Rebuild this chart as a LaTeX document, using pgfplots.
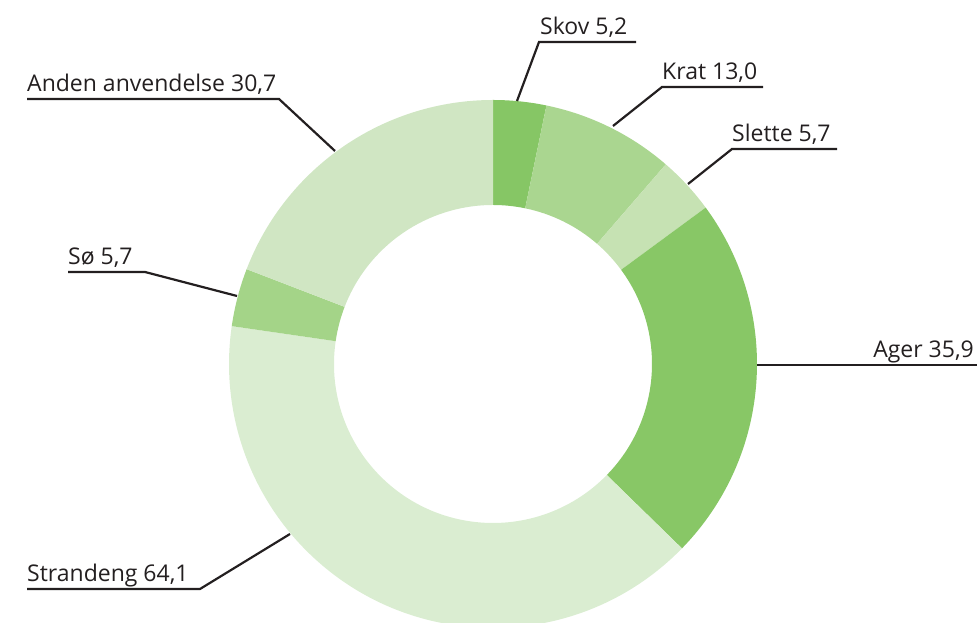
\documentclass[border=0pt]{standalone}
\usepackage{pgfplots}
\pgfplotsset{compat=1.18}
\usepackage{fontspec}
\setmainfont{Open Sans}
\definecolor{cSkov}{HTML}{86C665}
\definecolor{cKrat}{HTML}{AAD690}
\definecolor{cSlette}{HTML}{C6E2B3}
\definecolor{cAger}{HTML}{88C766}
\definecolor{cStrand}{HTML}{DAEDD1}
\definecolor{cSo}{HTML}{A4D488}
\definecolor{cAnden}{HTML}{D0E6C3}
\definecolor{txt}{HTML}{231F20}
% geometry in pixel units (1 axis unit = 1pt)
\def\DNcx{493}\def\DNcy{259}\def\DNRo{264}\def\DNRi{159}\def\DNtot{160.3}
% \slice{cumulative start}{value}{colour}
\newcommand\slice[3]{\pgfplotsextra{%
  \begin{pgfscope}%
  \pgfmathsetmacro\DNaA{90-((#1)/\DNtot)*360}%
  \pgfmathsetmacro\DNaB{90-((#1+#2)/\DNtot)*360}%
  \pgfmathsetmacro\DNxA{\DNcx+\DNRo*cos(\DNaA)}%
  \pgfmathsetmacro\DNyA{\DNcy+\DNRo*sin(\DNaA)}%
  \pgfmathsetmacro\DNxB{\DNcx+\DNRi*cos(\DNaB)}%
  \pgfmathsetmacro\DNyB{\DNcy+\DNRi*sin(\DNaB)}%
  \pgfpathmoveto{\pgfplotspointaxisxy{\DNxA}{\DNyA}}%
  \pgfpatharc{\DNaA}{\DNaB}{\DNRo pt}%
  \pgfpathlineto{\pgfplotspointaxisxy{\DNxB}{\DNyB}}%
  \pgfpatharc{\DNaB}{\DNaA}{\DNRi pt}%
  \pgfpathclose
  \pgfsetfillcolor{#3}%
  \pgfusepath{fill}%
  \end{pgfscope}}}
% \leader{x0}{y0}{xk}{xend}{y}  (image pixel coordinates, y from top)
\newcommand\leader[5]{%
  \draw[txt, line width=2.2pt] (axis cs:#1,{623-#2}) -- (axis cs:#3,{623-#5}) -- (axis cs:#4,{623-#5});}
\begin{document}
\begin{tikzpicture}
\begin{axis}[at={(0,0)}, anchor=south west, width=979pt, height=623pt, scale only axis,
  xmin=0, xmax=979, ymin=0, ymax=623, hide axis, clip=true]
\slice{0}{5.2}{cSkov}
\slice{5.2}{13.0}{cKrat}
\slice{18.2}{5.7}{cSlette}
\slice{23.9}{35.9}{cAger}
\slice{59.8}{64.1}{cStrand}
\slice{123.9}{5.7}{cSo}
\slice{129.6}{30.7}{cAnden}
\leader{517}{101}{539}{636}{42}
\leader{613}{126}{662}{763}{87}
\leader{688}{184}{732}{837}{149}
\leader{757}{365}{757}{977}{365}
\leader{335}{151}{279}{27}{99}
\leader{237}{296}{145}{68}{272}
\leader{290}{534}{200}{27}{589}
\begin{scope}[every node/.style={inner sep=0pt, text=txt, font=\fontsize{23}{27}\selectfont}]
\node[anchor=base west] at (axis cs:540,588) {Skov 5,2};
\node[anchor=base west] at (axis cs:662,543) {Krat 13,0};
\node[anchor=base west] at (axis cs:732,481) {Slette 5,7};
\node[anchor=base east] at (axis cs:974,265) {Ager 35,9};
\node[anchor=base west] at (axis cs:27,531) {Anden anvendelse 30,7};
\node[anchor=base west] at (axis cs:68,358) {Sø 5,7};
\node[anchor=base west] at (axis cs:27,41) {Strandeng 64,1};
\end{scope}
\end{axis}
\pgfresetboundingbox
\path (0,0) rectangle (979pt,623pt);
\end{tikzpicture}
\end{document}
